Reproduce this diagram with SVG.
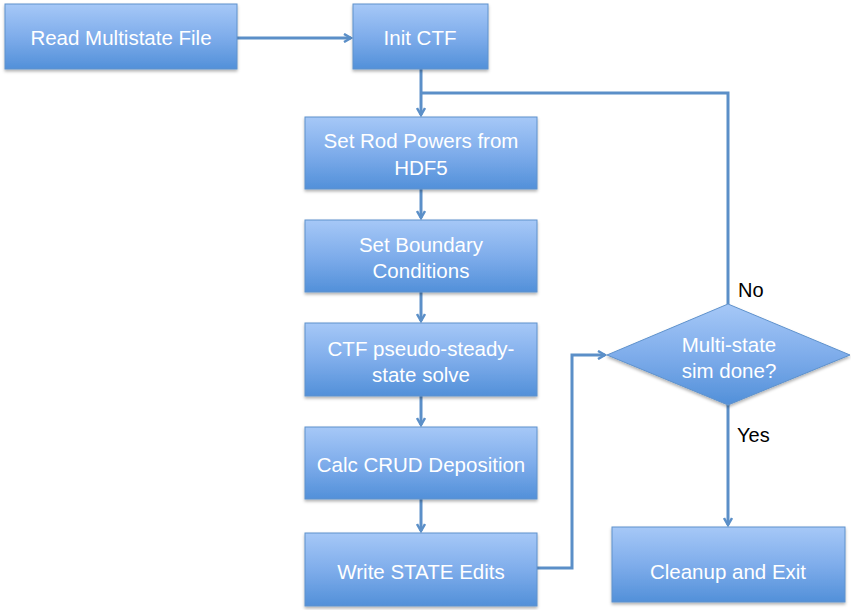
<svg xmlns="http://www.w3.org/2000/svg" width="851" height="610" viewBox="0 0 851 610">
<defs>
<linearGradient id="g" x1="0" y1="0" x2="0" y2="1">
<stop offset="0" stop-color="#a6c8f7"/>
<stop offset="0.5" stop-color="#7fadeb"/>
<stop offset="1" stop-color="#5290d9"/>
</linearGradient>
<filter id="sh" x="-10%" y="-10%" width="120%" height="130%">
<feDropShadow dx="0" dy="2" stdDeviation="1.5" flood-color="#000" flood-opacity="0.3"/>
</filter>
<marker id="ah" markerWidth="10" markerHeight="10" refX="8" refY="5" orient="auto" markerUnits="userSpaceOnUse">
<path d="M1,1 L8,5 L1,9" fill="none" stroke="#5b8fc8" stroke-width="2.5"/>
</marker>
</defs>
<style>
.box{fill:url(#g);stroke:#5f92cc;stroke-width:1;filter:url(#sh)}
.t{fill:#fff;font-family:"Liberation Sans",Arial,sans-serif;font-size:20.5px;text-anchor:middle}
.l{fill:#000;font-family:"Liberation Sans",Arial,sans-serif;font-size:20px}
.c{fill:none;stroke:#5b8fc8;stroke-width:3}
</style>
<rect width="851" height="610" fill="#fff"/>
<g id="connectors">
<path class="c" d="M237,38 H351" marker-end="url(#ah)"/>
<path class="c" d="M421,69 V115" marker-end="url(#ah)"/>
<path class="c" d="M728,304 V93 H421"/>
<path class="c" d="M421,189 V218" marker-end="url(#ah)"/>
<path class="c" d="M421,292 V321" marker-end="url(#ah)"/>
<path class="c" d="M421,396 V425" marker-end="url(#ah)"/>
<path class="c" d="M421,499 V531" marker-end="url(#ah)"/>
<path class="c" d="M537,568 H572 V355 H605" marker-end="url(#ah)"/>
<path class="c" d="M728,405 V525" marker-end="url(#ah)"/>
</g>
<g id="n1"><rect class="box" x="5" y="4" width="232" height="65"/><text class="t" x="121" y="45">Read Multistate File</text></g>
<g id="n2"><rect class="box" x="353" y="4" width="135" height="65"/><text class="t" x="420" y="45">Init CTF</text></g>
<g id="n3"><rect class="box" x="305" y="117" width="232" height="72"/><text class="t" x="421" y="148">Set Rod Powers from</text><text class="t" x="421" y="175">HDF5</text></g>
<g id="n4"><rect class="box" x="305" y="220" width="232" height="72"/><text class="t" x="421" y="252">Set Boundary</text><text class="t" x="421" y="278">Conditions</text></g>
<g id="n5"><rect class="box" x="305" y="323" width="232" height="73"/><text class="t" x="421" y="356">CTF pseudo-steady-</text><text class="t" x="421" y="382">state solve</text></g>
<g id="n6"><rect class="box" x="305" y="427" width="232" height="72"/><text class="t" x="421" y="472">Calc CRUD Deposition</text></g>
<g id="n7"><rect class="box" x="305" y="533" width="232" height="73"/><text class="t" x="421" y="579">Write STATE Edits</text></g>
<g id="n8"><polygon class="box" points="728,304 850,355 728,405 607,355"/><text class="t" x="729" y="352">Multi-state</text><text class="t" x="729" y="378">sim done?</text></g>
<g id="n9"><rect class="box" x="612" y="527" width="233" height="75"/><text class="t" x="728" y="579">Cleanup and Exit</text></g>
<text class="l" x="738" y="297">No</text>
<text class="l" x="737" y="442">Yes</text>
</svg>
